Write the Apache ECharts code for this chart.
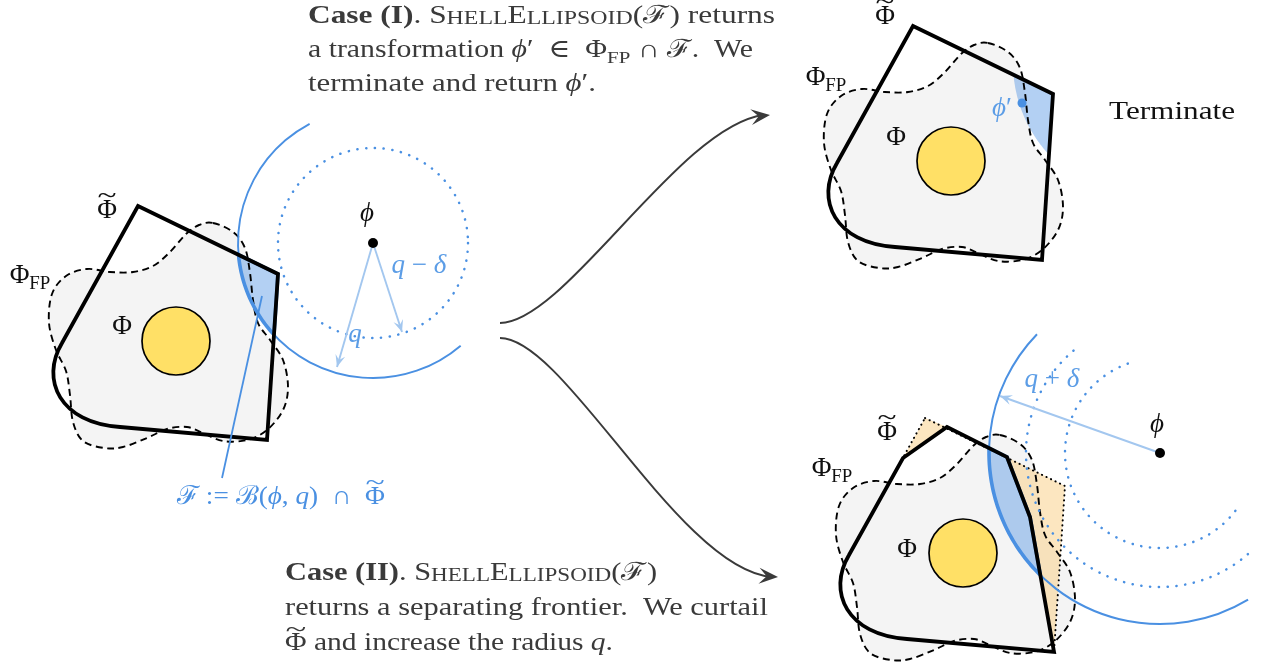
<!DOCTYPE html>
<html><head><meta charset="utf-8">
<script src="https://cdn.jsdelivr.net/npm/echarts@6/dist/echarts.min.js"></script>
<style>html,body{margin:0;padding:0;background:#fff}#c{width:1261px;height:668px}</style>
</head><body><div id="c"></div>
<script>
// ---------------- data (diagram coordinates, y grows downward) ----------------
const tildePhiOutline = [[138,206],[278,274],[267,440],[120,427]];
const tildePhiCorner = [[60,423],[40,380],[62,343]];
const curtailedOutline = [[116,246],[160,215],[220,245],[243,305],[267,440],[120,427]];
const removedPieces = [[[138,206],[116,246],[160,215]],[[220,245],[278,274],[267,440],[243,305]]];
const phiFPBlob = [[213,223],[233,232],[245,248],[250,273],[253,300],[258,323],[270,340],[283,360],[288,387],[283,410],[267,430],[247,440],[223,441],[203,433],[187,427],[167,429],[147,438],[123,447],[104,448],[83,441],[73,422],[70,395],[66,371],[56,350],[49,323],[52,294],[66,276],[87,269],[110,272],[133,272],[153,266],[170,252],[186,234],[199,225]];
const phiSetCenter = [176,341];
const phiSetRadius = 34;
const panelShifts = [[0,0],[775,-180],[787,212]];
const ballLeftCenter = [373,243];
const ballLeftRadii = [135,95];            // q, q - delta
const ballLeftArc = [49.5,242];
const ballRightCenter = [1160,453];
const ballRightRadii = [171,134,95];       // q + delta, q, q - delta
const ballRightArcs = [[59,224],[49,232],[37.5,252]];
const arrowTipsLeft = [[337,367],[402,332]];
const arrowTipRight = [1000,396];
const phiPrimePoint = [1022,103];
const frontierPointer = [[262,296],[222,478]];
const flowArrows = [[[500,323],[565,323],[680,125],[770,115]],[[500,338],[565,338],[680,570],[778,577]]];

const caseOneLines = [
  [{t:'Case (I)',b:1},{t:'. S'},{t:'HELL',sc:1},{t:'E'},{t:'LLIPSOID',sc:1},{t:'('},{t:'ℱ'},{t:') returns'}],
  [{t:'a transformation '},{t:'ϕ',i:1},{t:'′  ∈  Φ'},{t:'FP',sub:1},{t:' ∩ '},{t:'ℱ'},{t:'.  We'}],
  [{t:'terminate and return '},{t:'ϕ',i:1},{t:'′.'}]
];
const caseTwoLines = [
  [{t:'Case (II)',b:1},{t:'. S'},{t:'HELL',sc:1},{t:'E'},{t:'LLIPSOID',sc:1},{t:'('},{t:'ℱ'},{t:')'}],
  [{t:'returns a separating frontier.  We curtail'}],
  [{t:'Φ',tilde:1},{t:' and increase the radius '},{t:'q',i:1},{t:'.'}]
];
const frontierLabel = [{t:'ℱ'},{t:' := '},{t:'ℬ'},{t:'('},{t:'ϕ',i:1},{t:', '},{t:'q',i:1},{t:')  ∩  '},{t:'Φ',tilde:1}];
const labelTildePhi = [{t:'Φ',tilde:1}];
const labelPhiFP = [{t:'Φ'},{t:'FP',sub:1}];
const labelPhi = [{t:'Φ'}];
const labelSmallPhi = [{t:'ϕ',i:1}];
const labelPhiPrime = [{t:'ϕ',i:1},{t:'′'}];
const labelQMinusDelta = [{t:'q',i:1},{t:' − '},{t:'δ',i:1}];
const labelQ = [{t:'q',i:1}];
const labelQPlusDelta = [{t:'q',i:1},{t:' + '},{t:'δ',i:1}];
const labelTerminate = [{t:'Terminate'}];

// ---------------- layout / style ----------------
const SERIF = "'Liberation Serif','DejaVu Serif',serif";
const BLUE = '#4a90e2', LIGHT = '#a3c7ef', LBLUE = '#5c9de6';
const REGION = 'rgba(74,144,226,0.42)', ORANGE = 'rgba(250,205,130,0.5)';
const GRAY = '#f4f4f4', YELLOW = '#ffe066', TXT = '#3a3a3a';
const FS = 25, LFS = 27;
const measureCtx = document.createElement('canvas').getContext('2d');

function smoothClosedPath(px) {
  const n = px.length; let d = 'M' + px[0][0] + ',' + px[0][1];
  for (let i = 0; i < n; i++) {
    const p0 = px[(i - 1 + n) % n], p1 = px[i], p2 = px[(i + 1) % n], p3 = px[(i + 2) % n];
    const c1 = [p1[0] + (p2[0] - p0[0]) / 6, p1[1] + (p2[1] - p0[1]) / 6];
    const c2 = [p2[0] - (p3[0] - p1[0]) / 6, p2[1] - (p3[1] - p1[1]) / 6];
    d += 'C' + c1[0] + ',' + c1[1] + ' ' + c2[0] + ',' + c2[1] + ' ' + p2[0] + ',' + p2[1];
  }
  return d + 'Z';
}
function linePath(pts, close) {
  return pts.map((p, i) => (i ? 'L' : 'M') + p[0] + ',' + p[1]).join('') + (close ? 'Z' : '');
}
function clipToCircle(poly, c, r) {
  const N = 360, clip = [];
  for (let k = 0; k < N; k++) { const a = 2 * Math.PI * k / N; clip.push([c[0] + r * Math.cos(a), c[1] + r * Math.sin(a)]); }
  const cross = (a, b, p) => (b[0] - a[0]) * (p[1] - a[1]) - (b[1] - a[1]) * (p[0] - a[0]);
  let out = poly.slice();
  for (let k = 0; k < N && out.length; k++) {
    const A = clip[k], B = clip[(k + 1) % N], sgn = Math.sign(cross(A, B, c));
    const inside = p => cross(A, B, p) * sgn >= 0;
    const inter = (S, E) => {
      const d1 = cross(A, B, S), d2 = cross(A, B, E), t = d1 / (d1 - d2);
      return [S[0] + t * (E[0] - S[0]), S[1] + t * (E[1] - S[1])];
    };
    const inp = out; out = [];
    for (let i = 0; i < inp.length; i++) {
      const E = inp[i], S = inp[(i - 1 + inp.length) % inp.length];
      if (inside(E)) { if (!inside(S)) out.push(inter(S, E)); out.push(E); }
      else if (inside(S)) out.push(inter(S, E));
    }
  }
  return out;
}
function pieceFont(p, fs) {
  const size = p.sc ? fs * 0.76 : p.sub ? fs * 0.7 : fs;
  return { size, font: (p.i ? 'italic ' : '') + (p.b ? 'bold ' : '') + size.toFixed(2) + 'px ' + SERIF };
}
// builds a run of text pieces; (x0, baseline) in pixels; anchor 'left' or 'center'
function textRun(pieces, x0, baseline, fs, color, targetWidth, anchor) {
  let x = 0; const kids = [];
  for (const p of pieces) {
    const f = pieceFont(p, fs);
    measureCtx.font = f.font;
    const w = measureCtx.measureText(p.t).width;
    const y = baseline - 0.34 * f.size + (p.sub ? fs * 0.2 : 0);
    kids.push({ type: 'text', x: x, y: y, style: { text: p.t, font: f.font, fill: color, align: 'left', verticalAlign: 'middle' } });
    if (p.tilde) {
      const tf = (1.0 * fs).toFixed(2) + 'px ' + SERIF;
      kids.push({ type: 'text', x: x + w / 2, y: y - 0.52 * fs, scaleX: 1.3, style: { text: '~', font: tf, fill: color, align: 'center', verticalAlign: 'middle' } });
    }
    x += w;
  }
  const sx = targetWidth ? targetWidth / x : 1;
  const gx = anchor === 'center' ? x0 - x * sx / 2 : x0;
  return { type: 'group', x: gx, y: 0, scaleX: sx, children: kids };
}

function renderItem(params, api) {
  const C = p => api.coord(p);
  const R = r => Math.abs(api.size([r, r])[0]);
  const sh = (pts, d) => pts.map(p => [p[0] + d[0], p[1] + d[1]]);
  const px = pts => pts.map(C);
  const deg = a => a * Math.PI / 180;
  const els = [];
  const path = (d, style) => els.push({ type: 'path', shape: { pathData: d }, style: style });
  const outlineD = (outline, d) => {
    const cc = px(sh(tildePhiCorner, d));
    return linePath(px(sh(outline, d)), false) + 'C' + cc[0][0] + ',' + cc[0][1] + ' ' + cc[1][0] + ',' + cc[1][1] + ' ' + cc[2][0] + ',' + cc[2][1] + 'Z';
  };
  const panels = [
    { d: panelShifts[0], outline: tildePhiOutline, c: ballLeftCenter, r: ballLeftRadii[0], edge: true, removed: false },
    { d: panelShifts[1], outline: tildePhiOutline, c: [ballLeftCenter[0] + panelShifts[1][0], ballLeftCenter[1] + panelShifts[1][1]], r: ballLeftRadii[0], edge: false, removed: false },
    { d: panelShifts[2], outline: curtailedOutline, c: ballRightCenter, r: ballRightRadii[0], edge: true, removed: true }
  ];
  const regions = [];
  panels.forEach(P => {
    const blobD = smoothClosedPath(px(sh(phiFPBlob, P.d)));
    path(blobD, { fill: GRAY, stroke: null });
    if (P.removed) removedPieces.forEach(pc => path(linePath(px(sh(pc, P.d)), true), { fill: ORANGE, stroke: null }));
    const subject = sh(P.outline.concat([tildePhiCorner[2]]), P.d);
    const reg = clipToCircle(subject, P.c, P.r);
    const regD = linePath(px(reg), true);
    path(regD, { fill: REGION, stroke: null });
    regions.push({ d: regD, edge: P.edge });
    path(blobD, { fill: 'none', stroke: '#000', lineWidth: 1.9, lineDash: [7, 4.5] });
    if (P.removed) path(outlineD(tildePhiOutline, P.d), { fill: 'none', stroke: '#000', lineWidth: 2, lineDash: [0.2, 4.8], lineCap: 'round' });
  });
  // balls
  const cl = C(ballLeftCenter);
  els.push({ type: 'arc', shape: { cx: cl[0], cy: cl[1], r: R(ballLeftRadii[0]), startAngle: deg(ballLeftArc[0]), endAngle: deg(ballLeftArc[1]), clockwise: true }, style: { fill: 'none', stroke: BLUE, lineWidth: 1.9 } });
  els.push({ type: 'circle', shape: { cx: cl[0], cy: cl[1], r: R(ballLeftRadii[1]) }, style: { fill: 'none', stroke: BLUE, lineWidth: 2.5, lineDash: [0.2, 8.6], lineCap: 'round' } });
  const cr = C(ballRightCenter);
  ballRightRadii.forEach((r, k) => {
    const st = k === 0 ? { fill: 'none', stroke: BLUE, lineWidth: 2 } : { fill: 'none', stroke: BLUE, lineWidth: 2.5, lineDash: [0.2, 8.6], lineCap: 'round' };
    els.push({ type: 'arc', shape: { cx: cr[0], cy: cr[1], r: R(r), startAngle: deg(ballRightArcs[k][0]), endAngle: deg(ballRightArcs[k][1]), clockwise: true }, style: st });
  });
  regions.forEach(g => { if (g.edge) path(g.d, { fill: 'none', stroke: BLUE, lineWidth: 3.6 }); });
  // outlines + Phi
  panels.forEach(P => {
    path(outlineD(P.outline, P.d), { fill: 'none', stroke: '#000', lineWidth: 3.8, lineJoin: 'miter' });
    const c = C([phiSetCenter[0] + P.d[0], phiSetCenter[1] + P.d[1]]);
    els.push({ type: 'circle', shape: { cx: c[0], cy: c[1], r: R(phiSetRadius) }, style: { fill: YELLOW, stroke: '#000', lineWidth: 1.7 } });
  });
  // arrows
  const head = (tip, from, L, W, color) => {
    const dx = tip[0] - from[0], dy = tip[1] - from[1], n = Math.hypot(dx, dy), ux = dx / n, uy = dy / n;
    const pts = [tip, [tip[0] - L * ux + W * uy, tip[1] - L * uy - W * ux], [tip[0] - 0.6 * L * ux, tip[1] - 0.6 * L * uy], [tip[0] - L * ux - W * uy, tip[1] - L * uy + W * ux]];
    path(linePath(pts, true), { fill: color, stroke: null });
  };
  const straightArrow = (a, b) => {
    const A = C(a), B = C(b);
    els.push({ type: 'line', shape: { x1: A[0], y1: A[1], x2: B[0], y2: B[1] }, style: { stroke: LIGHT, lineWidth: 1.9 } });
    head(B, A, 12, 5, LIGHT);
  };
  arrowTipsLeft.forEach(t => straightArrow(ballLeftCenter, t));
  straightArrow(ballRightCenter, arrowTipRight);
  flowArrows.forEach(a => {
    const p = px(a);
    els.push({ type: 'bezierCurve', shape: { x1: p[0][0], y1: p[0][1], cpx1: p[1][0], cpy1: p[1][1], cpx2: p[2][0], cpy2: p[2][1], x2: p[3][0] - 6, y2: p[3][1] }, style: { fill: 'none', stroke: TXT, lineWidth: 1.9 } });
    head(p[3], p[2], 19, 8, TXT);
  });
  const fp = px(frontierPointer);
  els.push({ type: 'line', shape: { x1: fp[0][0], y1: fp[0][1], x2: fp[1][0], y2: fp[1][1] }, style: { stroke: BLUE, lineWidth: 1.8 } });
  [ballLeftCenter, ballRightCenter].forEach(c => { const q = C(c); els.push({ type: 'circle', shape: { cx: q[0], cy: q[1], r: 5 }, style: { fill: '#000' } }); });
  const pp = C(phiPrimePoint);
  els.push({ type: 'circle', shape: { cx: pp[0], cy: pp[1], r: 4.5 }, style: { fill: BLUE } });
  // text blocks
  const T = (pieces, x, y, color, w, anchor, fs) => { const p = C([x, y]); els.push(textRun(pieces, p[0], p[1], fs || FS, color, w, anchor)); };
  const caseOneBase = [25, 59, 93], caseOneW = [467, 445, 288];
  caseOneLines.forEach((l, i) => T(l, 308, caseOneBase[i], TXT, caseOneW[i], 'left'));
  const caseTwoBase = [582, 617, 652], caseTwoW = [372, 483, 328];
  caseTwoLines.forEach((l, i) => T(l, 285, caseTwoBase[i], TXT, caseTwoW[i], 'left'));
  T(frontierLabel, 177, 506, BLUE, 208, 'left', 26);
  // labels (centre x, baseline)
  const black = '#111';
  T(labelTildePhi, 107, 220, black, null, 'center', LFS);
  T(labelPhiFP, 30, 285, black, null, 'center', LFS);
  T(labelPhi, 122, 336, black, null, 'center', LFS);
  T(labelSmallPhi, 367, 223, black, null, 'center', LFS);
  T(labelQMinusDelta, 419, 275, LBLUE, null, 'center', LFS);
  T(labelQ, 355, 344, LBLUE, null, 'center', LFS);
  T(labelTildePhi, 885, 26, black, null, 'center', LFS);
  T(labelPhiFP, 826, 87, black, null, 'center', LFS);
  T(labelPhi, 896, 147, black, null, 'center', LFS);
  T(labelPhiPrime, 1002, 118, LBLUE, null, 'center', LFS);
  T(labelTerminate, 1172, 121, black, 126, 'center', 26);
  T(labelTildePhi, 887, 442, black, null, 'center', LFS);
  T(labelPhiFP, 832, 478, black, null, 'center', LFS);
  T(labelPhi, 907, 559, black, null, 'center', LFS);
  T(labelSmallPhi, 1157, 434, black, null, 'center', LFS);
  T(labelQPlusDelta, 1052, 389, LBLUE, null, 'center', LFS);
  return { type: 'group', children: els };
}

const chart = echarts.init(document.getElementById('c'));
chart.setOption({
  animation: false,
  backgroundColor: '#fff',
  grid: { left: 0, right: 0, top: 0, bottom: 0 },
  xAxis: { type: 'value', min: 0, max: 1261, show: false },
  yAxis: { type: 'value', min: 0, max: 668, inverse: true, show: false },
  series: [{ type: 'custom', renderItem: renderItem, data: [[0, 0]], silent: true, clip: false }]
});
</script></body></html>
